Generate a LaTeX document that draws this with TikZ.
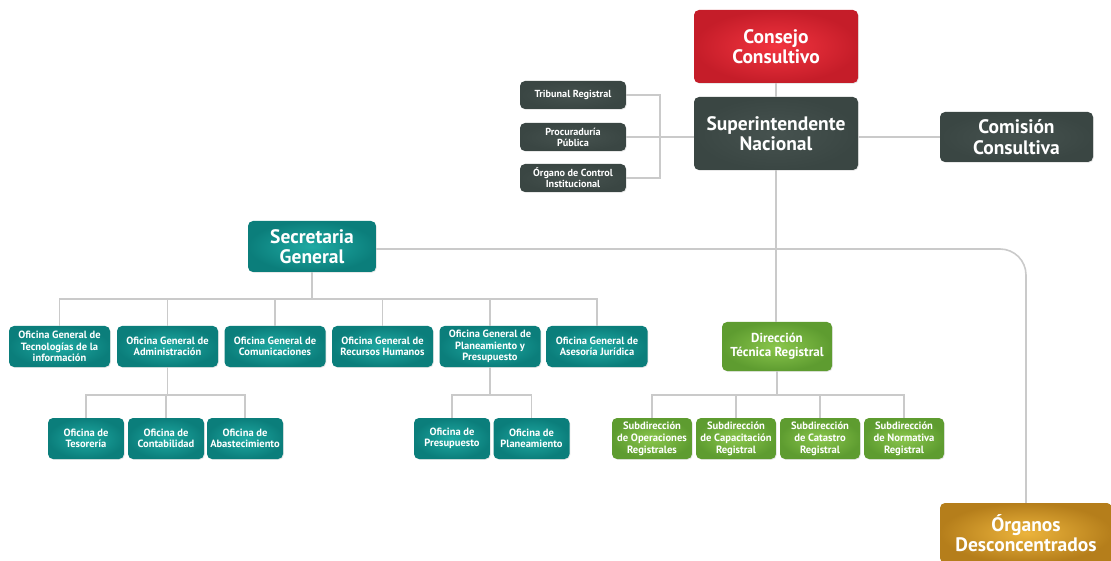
\documentclass[tikz,border=0pt]{standalone}
\usepackage{fontspec}
\setmainfont{PT Sans}
\usetikzlibrary{shadows}
\definecolor{lin}{HTML}{CACACA}
\definecolor{darkb}{HTML}{3A4643}
\definecolor{darkbi}{HTML}{46524F}
\definecolor{tealin}{HTML}{1FAAA3}
\definecolor{tealout}{HTML}{0B7E7B}
\definecolor{grin}{HTML}{8AC64C}
\definecolor{grout}{HTML}{5E9C30}
\definecolor{redin}{HTML}{F2343F}
\definecolor{redout}{HTML}{C51D29}
\definecolor{musin}{HTML}{ECB43C}
\definecolor{musout}{HTML}{B57E1B}
\begin{document}
\begin{tikzpicture}[x=1pt,y=-1pt,
  box/.style={rounded corners=5pt, text=white, align=center, inner sep=1pt,
    font=\bfseries, drop shadow={opacity=0.18, shadow xshift=0.8pt, shadow yshift=-0.8pt}},
  redbox/.style={box, inner color=redin, outer color=redout},
  darkbox/.style={box, inner color=darkbi, outer color=darkb},
  tealbox/.style={box, inner color=tealin, outer color=tealout},
  greenbox/.style={box, inner color=grin, outer color=grout},
  musbox/.style={box, inner color=musin, outer color=musout},
  big/.style={font=\bfseries\fontsize{19.5}{20.5}\selectfont},
  small/.style={font=\bfseries\fontsize{10.2}{11}\selectfont},
  mid/.style={font=\bfseries\fontsize{10.5}{11.6}\selectfont},
  conn/.style={draw=lin, line width=1.6pt},
]
\useasboundingbox (0,0) rectangle (1111,561);

% top
\node[redbox, big, minimum width=164, minimum height=73] (cons) at (776,46.5) {Consejo\\Consultivo};
\node[darkbox, big, minimum width=164, minimum height=73] (sup) at (776,133.5) {Superintendente\\Nacional};
\node[darkbox, big, minimum width=153, minimum height=50] (com) at (1016.5,137) {Comisión\\Consultiva};
\node[darkbox, small, minimum width=106, minimum height=28] (trib) at (573,95) {Tribunal Registral};
\node[darkbox, small, minimum width=106, minimum height=28] (proc) at (573,137) {Procuraduría\\Pública};
\node[darkbox, small, minimum width=106, minimum height=28] (oci) at (573,178) {Órgano de Control\\Institucional};

% secretaria
\node[tealbox, big, minimum width=128, minimum height=51] (sec) at (312,246.5) {Secretaria\\General};

% second row
\foreach \n/\cx/\t in {og1/59.5/{Oficina General de\\Tecnologías de la\\información},
  og2/167.5/{Oficina General de\\Administración},
  og3/275/{Oficina General de\\Comunicaciones},
  og4/382.5/{Oficina General de\\Recursos Humanos},
  og5/490/{Oficina General de\\Planeamiento y\\Presupuesto},
  og6/597/{Oficina General de\\Asesoría Jurídica}}
  \node[tealbox, mid, minimum width=101, minimum height=41] (\n) at (\cx,346.5) {\t};

% third row teal
\foreach \n/\cx/\t in {ot1/86/{Oficina de\\Tesorería}, ot2/166/{Oficina de\\Contabilidad},
  ot3/245/{Oficina de\\Abastecimiento}, op1/452/{Oficina de\\Presupuesto}, op2/531.5/{Oficina de\\Planeamiento}}
  \node[tealbox, mid, minimum width=76, minimum height=41] (\n) at (\cx,438.5) {\t};

% direccion
\node[greenbox, font=\bfseries\fontsize{13}{14}\selectfont, minimum width=110, minimum height=49] (dir) at (777,346.5) {Dirección\\Técnica Registral};
\foreach \n/\cx/\t in {sd1/652/{Subdirección\\de Operaciones\\Registrales}, sd2/736/{Subdirección\\de Capacitación\\Registral},
  sd3/820/{Subdirección\\de Catastro\\Registral}, sd4/904/{Subdirección\\de Normativa\\Registral}}
  \node[greenbox, font=\bfseries\fontsize{10.6}{12}\selectfont, minimum width=80, minimum height=41] (\n) at (\cx,438.5) {\t};

% organos
\node[musbox, big, minimum width=172, minimum height=60] (org) at (1026,533) {Órganos\\Desconcentrados};

% connectors
\coordinate (j) at (660,137);
\coordinate (sl) at (0,249);
\draw[conn] (cons.south) -- (sup.north);
\draw[conn] (sup.east |- j) -- (com.west |- j);
\draw[conn] (trib.east) -| (j) |- (oci.east);
\draw[conn] (proc.east) -- (proc.east -| sup.west);
\draw[conn] (sup.south) -- (sup.south |- dir.north);
\draw[conn, rounded corners=26pt] (sec.east |- sl) -| (org.north);

\coordinate (b1) at (312,299);
\draw[conn] (sec.south) -- (b1);
\draw[conn] (og1.north) -- (og1.north |- b1) -- (og6.north |- b1) -- (og6.north);
\foreach \n in {og2,og3,og4,og5} \draw[conn] (\n.north) -- (\n.north |- b1);

\coordinate (b2) at (0,395);
\draw[conn] (og2.south) -- (og2.south |- b2);
\draw[conn] (ot1.north) -- (ot1.north |- b2) -- (ot3.north |- b2) -- (ot3.north);
\draw[conn] (ot2.north) -- (ot2.north |- b2);

\draw[conn] (og5.south) -- (og5.south |- b2);
\draw[conn] (op1.north) -- (op1.north |- b2) -- (op2.north |- b2) -- (op2.north);

\draw[conn] (dir.south) -- (dir.south |- b2);
\draw[conn] (sd1.north) -- (sd1.north |- b2) -- (sd4.north |- b2) -- (sd4.north);
\foreach \n in {sd2,sd3} \draw[conn] (\n.north) -- (\n.north |- b2);
\end{tikzpicture}
\end{document}
